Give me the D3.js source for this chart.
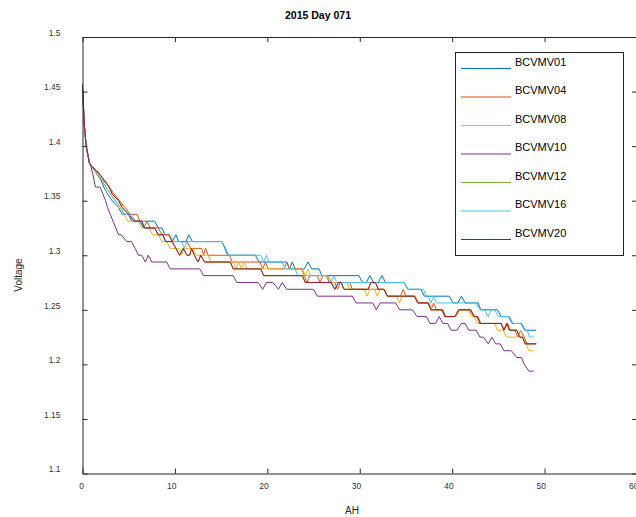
<!DOCTYPE html>
<html>
<head>
<meta charset="utf-8">
<script src="https://cdn.jsdelivr.net/npm/d3@7"></script>
<style>
  html, body { margin: 0; padding: 0; background: #fff; }
  svg { display: block; font-family: "Liberation Sans", Arial, sans-serif; }
</style>
</head>
<body>
<svg id="chart" width="636" height="517"></svg>
<script>
// ---------------- data ----------------
const title = "2015 Day 071";
const xLabel = "AH";
const yLabel = "Voltage";
const xTicks = [0, 10, 20, 30, 40, 50, 60];
const yTicks = [1.1, 1.15, 1.2, 1.25, 1.3, 1.35, 1.4, 1.45, 1.5];
const seriesNames = ["BCVMV01", "BCVMV04", "BCVMV08", "BCVMV10", "BCVMV12", "BCVMV16", "BCVMV20"];
const seriesColors = ["#0072BD", "#D95319", "#EDB120", "#7E2F8E", "#77AC30", "#4DBEEE", "#A2142F"];

const bcvmv01 = [[0,1.4531],[0.2,1.4188],[0.4,1.4000],[0.75,1.3844],[1.0,1.3813],[1.5,1.3750],[2.0,1.3688],[2.3,1.3625],[2.7,1.3563],[3.2,1.3500],[3.9,1.3438],[4.3,1.3375],[5.0,1.3375],[5.3,1.3313],[6.2,1.3313],[6.6,1.3250],[7.0,1.3313],[7.8,1.3313],[8.2,1.3250],[8.6,1.3250],[8.9,1.3188],[9.3,1.3188],[9.7,1.3125],[10.1,1.3188],[10.4,1.3125],[11.2,1.3125],[11.5,1.3188],[11.9,1.3125],[15.1,1.3125],[15.4,1.3063],[15.7,1.3000],[18.7,1.3000],[19.1,1.2938],[22.1,1.2938],[22.4,1.2875],[22.7,1.2938],[23.0,1.2875],[24.0,1.2875],[24.4,1.2938],[24.8,1.2875],[25.6,1.2875],[25.9,1.2813],[29.9,1.2813],[30.3,1.2750],[30.7,1.2750],[31.1,1.2813],[31.5,1.2750],[32.0,1.2750],[32.4,1.2813],[32.8,1.2750],[34.8,1.2750],[35.2,1.2688],[36.6,1.2688],[37.0,1.2625],[39.7,1.2625],[40.1,1.2563],[40.6,1.2563],[41.0,1.2625],[41.4,1.2563],[42.8,1.2563],[43.1,1.2500],[44.9,1.2500],[45.3,1.2438],[46.1,1.2438],[46.5,1.2375],[47.5,1.2375],[47.9,1.2313],[49.1,1.2313]];

const bcvmv04 = [[0,1.4531],[0.2,1.4188],[0.4,1.4000],[0.75,1.3844],[1.1,1.3813],[1.7,1.3750],[2.4,1.3688],[2.9,1.3625],[3.4,1.3563],[4.0,1.3500],[4.6,1.3438],[5.2,1.3375],[5.9,1.3375],[6.2,1.3313],[7.0,1.3313],[7.3,1.3250],[8.2,1.3250],[8.6,1.3188],[9.4,1.3188],[9.8,1.3125],[11.3,1.3125],[11.7,1.3063],[12.9,1.3063],[13.1,1.3000],[13.3,1.3063],[13.6,1.3000],[15.9,1.3000],[16.2,1.2938],[19.2,1.2938],[19.5,1.2875],[19.8,1.2938],[20.1,1.2875],[21.8,1.2875],[22.1,1.2938],[22.4,1.2875],[23.7,1.2875],[24.0,1.2813],[24.3,1.2750],[24.6,1.2813],[25.4,1.2813],[25.7,1.2750],[26.0,1.2813],[26.4,1.2813],[26.7,1.2750],[27.3,1.2750],[27.6,1.2688],[27.9,1.2750],[28.9,1.2750],[29.2,1.2688],[32.6,1.2688],[33.0,1.2625],[34.4,1.2625],[34.7,1.2688],[35.0,1.2625],[36.0,1.2625],[36.3,1.2563],[37.4,1.2563],[37.7,1.2500],[38.0,1.2563],[38.3,1.2500],[39.0,1.2500],[39.3,1.2438],[40.4,1.2438],[40.8,1.2500],[41.9,1.2500],[42.3,1.2438],[42.8,1.2438],[43.1,1.2375],[45.3,1.2375],[45.6,1.2313],[46.0,1.2375],[46.3,1.2313],[46.8,1.2313],[47.1,1.2250],[47.4,1.2313],[47.8,1.2250],[48.1,1.2188],[49.1,1.2188]];

const bcvmv08 = [[0,1.4531],[0.2,1.4188],[0.4,1.4000],[0.75,1.3844],[1.0,1.3813],[1.5,1.3750],[2.1,1.3688],[2.6,1.3625],[3.0,1.3563],[3.6,1.3500],[4.1,1.3438],[4.5,1.3375],[4.9,1.3313],[6.0,1.3313],[6.4,1.3250],[7.2,1.3250],[7.6,1.3188],[8.2,1.3188],[8.6,1.3125],[9.1,1.3125],[9.5,1.3063],[10.4,1.3063],[10.7,1.3000],[11.0,1.3063],[11.9,1.3063],[12.3,1.3000],[13.6,1.3000],[13.9,1.2938],[16.3,1.2938],[16.6,1.2875],[16.9,1.2938],[17.2,1.2875],[17.5,1.2938],[17.8,1.2875],[23.8,1.2875],[24.1,1.2813],[24.4,1.2875],[24.7,1.2813],[26.5,1.2813],[26.8,1.2750],[28.6,1.2750],[28.9,1.2688],[30.5,1.2688],[30.8,1.2625],[31.1,1.2688],[31.6,1.2688],[31.9,1.2625],[32.2,1.2688],[32.7,1.2688],[33.0,1.2625],[34.0,1.2625],[34.3,1.2563],[34.6,1.2625],[36.0,1.2625],[36.3,1.2563],[37.5,1.2563],[37.8,1.2500],[38.9,1.2500],[39.2,1.2438],[40.4,1.2438],[40.8,1.2500],[41.7,1.2500],[42.1,1.2438],[42.4,1.2438],[42.7,1.2375],[44.6,1.2375],[44.9,1.2313],[45.5,1.2313],[45.9,1.2250],[47.1,1.2250],[47.4,1.2313],[47.7,1.2250],[48.0,1.2188],[48.3,1.2125],[48.8,1.2125]];

const bcvmv10 = [[0,1.4531],[0.2,1.4188],[0.4,1.4000],[0.75,1.3844],[0.9,1.3813],[1.1,1.3750],[1.4,1.3625],[1.9,1.3625],[2.2,1.3563],[2.5,1.3500],[2.7,1.3438],[3.0,1.3375],[3.3,1.3313],[3.6,1.3250],[3.9,1.3188],[4.2,1.3188],[4.8,1.3125],[5.3,1.3125],[5.7,1.3063],[6.05,1.3000],[6.4,1.3000],[6.8,1.2938],[7.1,1.3000],[7.5,1.2938],[9.1,1.2938],[9.5,1.2875],[12.7,1.2875],[13.1,1.2813],[16.3,1.2813],[16.7,1.2750],[19.0,1.2750],[19.5,1.2688],[19.9,1.2750],[20.6,1.2750],[21.2,1.2688],[21.6,1.2750],[22.1,1.2688],[25.0,1.2688],[25.4,1.2625],[29.2,1.2625],[29.6,1.2563],[31.4,1.2563],[31.8,1.2500],[32.2,1.2563],[33.9,1.2563],[34.3,1.2500],[35.7,1.2500],[36.2,1.2438],[37.2,1.2438],[37.6,1.2375],[38.2,1.2375],[38.6,1.2438],[39.0,1.2375],[39.5,1.2375],[39.9,1.2313],[40.5,1.2313],[41.0,1.2375],[41.4,1.2375],[41.8,1.2313],[42.6,1.2313],[43.0,1.2250],[43.4,1.2250],[43.9,1.2188],[44.3,1.2250],[44.7,1.2188],[45.2,1.2188],[45.6,1.2125],[46.4,1.2125],[47.0,1.2063],[47.5,1.2063],[47.8,1.2000],[48.3,1.1938],[48.8,1.1938]];

const bcvmv12 = [[0,1.4563],[0.2,1.4188],[0.4,1.4000],[0.75,1.3844],[1.0,1.3813],[1.8,1.3750],[2.3,1.3688],[2.9,1.3625],[3.2,1.3563],[3.9,1.3500],[4.3,1.3438],[5.0,1.3375],[5.6,1.3313],[6.4,1.3313],[6.7,1.3250],[7.8,1.3250],[8.2,1.3188],[8.7,1.3188],[9.0,1.3125],[9.7,1.3125],[10.1,1.3063],[10.5,1.3000],[10.9,1.3063],[11.3,1.3000],[11.6,1.3000],[11.8,1.3063],[12.1,1.3000],[12.5,1.2938],[12.8,1.3000],[13.2,1.2938],[16.0,1.2938],[16.3,1.2875],[19.3,1.2875],[19.6,1.2813],[23.8,1.2813],[24.1,1.2750],[26.9,1.2750],[27.3,1.2688],[27.7,1.2750],[28.0,1.2750],[28.3,1.2688],[30.9,1.2688],[31.2,1.2750],[31.7,1.2750],[32.0,1.2688],[32.6,1.2688],[33.0,1.2625],[35.9,1.2625],[36.3,1.2563],[37.4,1.2563],[37.7,1.2500],[38.9,1.2500],[39.2,1.2438],[40.3,1.2438],[40.7,1.2500],[42.0,1.2500],[42.4,1.2438],[42.7,1.2438],[43.0,1.2375],[45.3,1.2375],[45.6,1.2313],[45.9,1.2375],[46.2,1.2313],[47.0,1.2313],[47.3,1.2250],[47.6,1.2250],[47.9,1.2188],[49.1,1.2188]];

const bcvmv16 = [[0,1.4531],[0.2,1.4188],[0.4,1.4000],[0.75,1.3844],[1.0,1.3813],[1.6,1.3750],[2.1,1.3688],[2.5,1.3625],[3.0,1.3563],[3.5,1.3500],[4.1,1.3438],[4.6,1.3375],[5.3,1.3375],[5.7,1.3313],[6.4,1.3313],[6.8,1.3250],[7.8,1.3250],[8.2,1.3188],[8.6,1.3188],[9.0,1.3125],[10.7,1.3125],[11.0,1.3063],[11.3,1.3125],[15.1,1.3125],[15.5,1.3063],[15.8,1.3000],[19.3,1.3000],[19.6,1.2938],[19.9,1.3000],[20.2,1.2938],[21.6,1.2938],[21.9,1.2875],[23.0,1.2875],[23.3,1.2813],[26.6,1.2813],[26.9,1.2750],[27.2,1.2813],[27.5,1.2750],[34.8,1.2750],[35.2,1.2688],[36.9,1.2688],[37.2,1.2625],[37.4,1.2625],[37.7,1.2563],[38.0,1.2625],[38.3,1.2563],[42.6,1.2563],[43.0,1.2500],[43.5,1.2500],[43.9,1.2438],[44.2,1.2500],[44.6,1.2500],[45.0,1.2438],[46.2,1.2438],[46.6,1.2375],[47.4,1.2375],[47.8,1.2313],[48.1,1.2313],[48.4,1.2250],[48.8,1.2250]];

const bcvmv20 = [[0,1.4563],[0.2,1.4188],[0.4,1.4000],[0.75,1.3844],[1.0,1.3813],[1.8,1.3750],[2.3,1.3688],[2.9,1.3625],[3.2,1.3563],[3.9,1.3500],[4.3,1.3438],[5.0,1.3375],[5.6,1.3313],[6.4,1.3313],[6.7,1.3250],[7.8,1.3250],[8.2,1.3188],[8.7,1.3188],[9.0,1.3125],[9.7,1.3125],[10.1,1.3063],[10.5,1.3000],[10.9,1.3063],[11.3,1.3000],[11.6,1.3000],[11.8,1.3063],[12.1,1.3000],[12.5,1.2938],[12.8,1.3000],[13.2,1.2938],[16.0,1.2938],[16.3,1.2875],[19.3,1.2875],[19.6,1.2813],[23.8,1.2813],[24.1,1.2750],[26.9,1.2750],[27.3,1.2688],[27.7,1.2750],[28.0,1.2750],[28.3,1.2688],[30.9,1.2688],[31.2,1.2750],[31.7,1.2750],[32.0,1.2688],[32.6,1.2688],[33.0,1.2625],[35.9,1.2625],[36.3,1.2563],[37.4,1.2563],[37.7,1.2500],[38.9,1.2500],[39.2,1.2438],[40.3,1.2438],[40.7,1.2500],[42.0,1.2500],[42.4,1.2438],[42.7,1.2438],[43.0,1.2375],[45.3,1.2375],[45.6,1.2313],[45.9,1.2375],[46.2,1.2313],[47.0,1.2313],[47.3,1.2250],[47.6,1.2250],[47.9,1.2188],[49.1,1.2188]];

const seriesValues = [bcvmv01, bcvmv04, bcvmv08, bcvmv10, bcvmv12, bcvmv16, bcvmv20];

// ---------------- drawing ----------------
const svg = d3.select("#chart");
const axisColor = "#262626";
const plotLeft = 82.5, plotRight = 637, plotTop = 37, plotBottom = 473.5;

const x = d3.scaleLinear().domain([0, 60]).range([plotLeft, plotRight]);
const y = d3.scaleLinear().domain([1.1, 1.5]).range([plotBottom, plotTop]);

svg.append("rect").attr("width", 636).attr("height", 517).attr("fill", "#fff");

// lines
const line = d3.line().x(d => x(d[0])).y(d => y(d[1]));
const gLines = svg.append("g");
seriesValues.forEach((vals, i) => {
  gLines.append("path")
    .datum(vals)
    .attr("d", line)
    .attr("fill", "none")
    .attr("stroke", seriesColors[i])
    .attr("stroke-width", 1)
    .attr("stroke-linejoin", "round");
});

// axes
const fontTick = 8.5;
const gx = svg.append("g").attr("transform", `translate(0,${plotBottom})`)
  .call(d3.axisBottom(x).tickValues(xTicks).tickSizeInner(-5).tickSizeOuter(0).tickPadding(9).tickFormat(d3.format("d")));
gx.selectAll("text").attr("text-anchor", "end").attr("x", 1);

const gy = svg.append("g").attr("transform", `translate(${plotLeft},0)`)
  .call(d3.axisLeft(y).tickValues(yTicks).tickSizeInner(-5).tickSizeOuter(0).tickPadding(22).tickFormat(d => String(+d.toFixed(2))));
gy.selectAll("text").attr("y", -4.5);

const gxt = svg.append("g").attr("transform", `translate(0,${plotTop})`)
  .call(d3.axisTop(x).tickValues(xTicks).tickSizeInner(-5).tickSizeOuter(0).tickFormat(""));
const gyr = svg.append("g").attr("transform", `translate(${plotRight},0)`)
  .call(d3.axisRight(y).tickValues(yTicks).tickSizeInner(-5).tickSizeOuter(0).tickFormat(""));

[gx, gy, gxt, gyr].forEach(g => {
  g.select(".domain").attr("stroke", axisColor).attr("stroke-width", 1);
  g.selectAll(".tick line").attr("stroke", axisColor).attr("stroke-width", 1);
  g.selectAll("text").attr("fill", "#333").style("font-size", fontTick + "px")
    .style("font-family", '"Liberation Sans", Arial, sans-serif');
});

// legend
const lg = svg.append("g");
lg.append("rect").attr("x", 455.5).attr("y", 52.5).attr("width", 168).attr("height", 203)
  .attr("fill", "#fff").attr("stroke", axisColor).attr("stroke-width", 1);
seriesNames.forEach((name, i) => {
  const yy = 68.5 + i * 28.5;
  lg.append("line").attr("x1", 461).attr("x2", 511).attr("y1", yy).attr("y2", yy)
    .attr("stroke", seriesColors[i]).attr("stroke-width", 1);
  lg.append("text").attr("x", 515).attr("y", yy - 6.5).attr("dy", "0.35em")
    .attr("fill", "#000").style("font-size", "11px").text(name);
});

// titles
svg.append("text").attr("x", 318).attr("y", 15).attr("dy", "0.35em").attr("text-anchor", "middle")
  .style("font-size", "10.5px").style("font-weight", "bold").attr("fill", "#000").text(title);
svg.append("text").attr("x", 352).attr("y", 510).attr("dy", "0.35em").attr("text-anchor", "middle")
  .style("font-size", "10px").attr("fill", axisColor).text(xLabel);
svg.append("text").attr("transform", "translate(18,275) rotate(-90)").attr("dy", "0.35em")
  .attr("text-anchor", "middle").style("font-size", "10px").attr("fill", axisColor).text(yLabel);
</script>
</body>
</html>
